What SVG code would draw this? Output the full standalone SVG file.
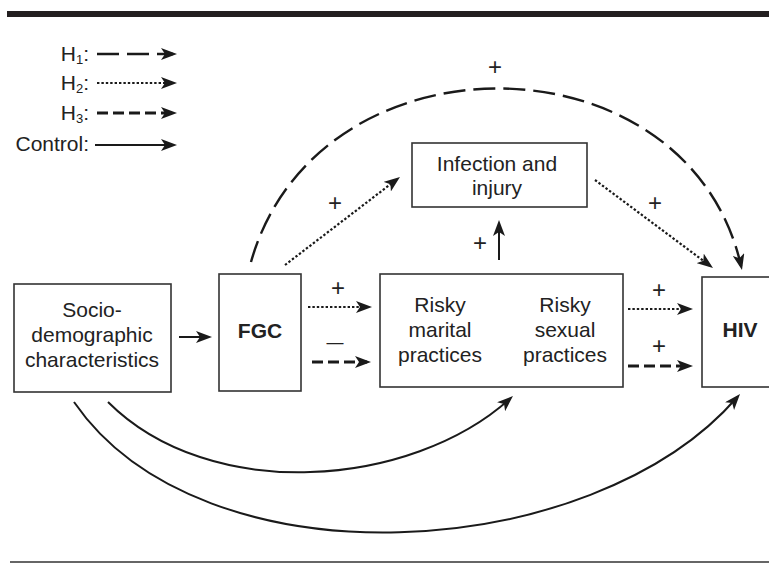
<svg xmlns="http://www.w3.org/2000/svg" width="769" height="563" viewBox="0 0 769 563">
<style>
text{font-family:"Liberation Sans",Arial,Helvetica,sans-serif;font-size:21px;fill:#222;}
.b{font-weight:bold;}
.p{font-size:24px;}
.box{fill:#fff;stroke:#333;stroke-width:1.6;}
.c{fill:none;stroke:#1a1a1a;stroke-width:2;marker-end:url(#ah);}
.h1{stroke-dasharray:22 8;stroke-width:2.4;}
.h2{stroke-dasharray:2.4 2;stroke-width:2.2;}
.h3{stroke-dasharray:11 5;stroke-width:3;}
</style>
<defs>
<marker id="ah" markerUnits="userSpaceOnUse" markerWidth="16" markerHeight="12" refX="12" refY="6" orient="auto">
<path d="M0,0 L16,6 L0,12 L4,6 Z" fill="#1a1a1a"/>
</marker>
</defs>
<rect x="7" y="11" width="762" height="6" fill="#231f20"/>
<line x1="10" y1="562" x2="769" y2="562" stroke="#333" stroke-width="1.5"/>
<g id="legend">
<text x="89" y="61" text-anchor="end">H<tspan font-size="13" dy="3">1</tspan><tspan dy="-3">:</tspan></text>
<text x="89" y="90" text-anchor="end">H<tspan font-size="13" dy="3">2</tspan><tspan dy="-3">:</tspan></text>
<text x="89" y="120" text-anchor="end">H<tspan font-size="13" dy="3">3</tspan><tspan dy="-3">:</tspan></text>
<text x="89" y="151" text-anchor="end">Control:</text>
<line class="c h1" x1="97" y1="54" x2="173" y2="54"/>
<line class="c h2" x1="97" y1="83" x2="173" y2="83"/>
<line class="c h3" x1="97" y1="113" x2="173" y2="113"/>
<line class="c" x1="95" y1="145" x2="173" y2="145"/>
</g>
<g id="socio">
<rect class="box" x="14" y="284" width="157" height="108"/>
<text x="92" y="317" text-anchor="middle">Socio-</text>
<text x="92" y="342" text-anchor="middle">demographic</text>
<text x="92" y="367" text-anchor="middle">characteristics</text>
</g>
<g id="fgc">
<rect class="box" x="219" y="274" width="82" height="117"/>
<text class="b" x="260" y="338" text-anchor="middle">FGC</text>
</g>
<g id="infection">
<rect class="box" x="412" y="143" width="175" height="64"/>
<text x="497" y="171" text-anchor="middle">Infection and</text>
<text x="497" y="195" text-anchor="middle">injury</text>
</g>
<g id="risky">
<rect class="box" x="380" y="274" width="243" height="113"/>
<text x="440" y="312" text-anchor="middle">Risky</text>
<text x="440" y="337" text-anchor="middle">marital</text>
<text x="440" y="362" text-anchor="middle">practices</text>
<text x="565" y="312" text-anchor="middle">Risky</text>
<text x="565" y="337" text-anchor="middle">sexual</text>
<text x="565" y="362" text-anchor="middle">practices</text>
</g>
<g id="hiv">
<rect class="box" x="702" y="277" width="80" height="110"/>
<text class="b" x="740" y="337" text-anchor="middle">HIV</text>
</g>
<g id="connectors">
<path class="c h1" d="M251,262 C317,28 688,32 741.1,266.1"/>
<line class="c" x1="179" y1="337" x2="208" y2="337"/>
<line class="c h2" x1="285" y1="265" x2="396.8" y2="179.4"/>
<line class="c h2" x1="595" y1="180" x2="709.8" y2="265.6"/>
<line class="c" x1="499" y1="260" x2="499" y2="224"/>
<line class="c h2" x1="308" y1="307" x2="368" y2="307"/>
<line class="c h3" x1="312" y1="362" x2="367" y2="362"/>
<line class="c h2" x1="628" y1="309" x2="689" y2="309"/>
<line class="c h3" x1="628" y1="366" x2="689" y2="366"/>
<path class="c" d="M108,402 C210,504 411,488 510,398.7"/>
<path class="c" d="M74,402 C202,588 592,565 737.4,397"/>
</g>
<g id="labels">
<text class="p" x="495" y="75" text-anchor="middle">+</text>
<text class="p" x="335" y="211" text-anchor="middle">+</text>
<text class="p" x="655" y="211" text-anchor="middle">+</text>
<text class="p" x="480" y="251" text-anchor="middle">+</text>
<text class="p" x="338" y="296" text-anchor="middle">+</text>
<text x="335" y="349" text-anchor="middle" textLength="17" lengthAdjust="spacingAndGlyphs">–</text>
<text class="p" x="659" y="298" text-anchor="middle">+</text>
<text class="p" x="659" y="354" text-anchor="middle">+</text>
</g>
</svg>
